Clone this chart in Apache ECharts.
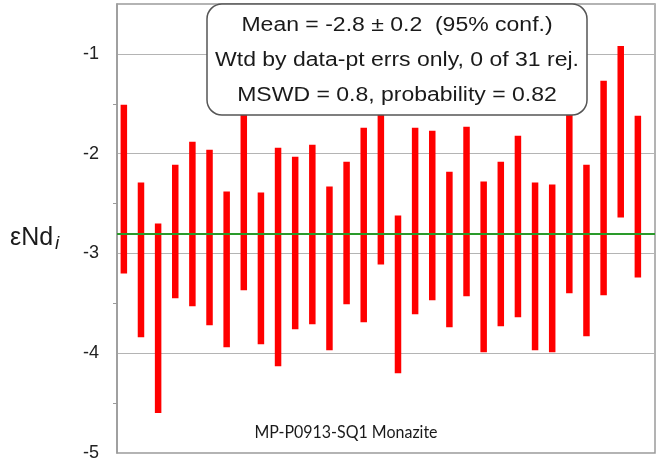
<!DOCTYPE html>
<html>
<head>
<meta charset="utf-8">
<script src="https://cdn.jsdelivr.net/npm/echarts@6/dist/echarts.min.js"></script>
<style>
  html, body { margin: 0; padding: 0; background: #fff; }
  #chart { width: 662px; height: 463px; }
</style>
</head>
<body>
<div id="chart"></div>
<script>
// Spot numbers (analysis index along the x axis)
const spots = [1,2,3,4,5,6,7,8,9,10,11,12,13,14,15,16,17,18,19,20,21,22,23,24,25,26,27,28,29,30,31];
// Upper and lower ends of each 2-sigma error bar (εNd_i)
const upper = [-1.51,-2.29,-2.70,-2.11,-1.88,-1.96,-2.38,-1.50,-2.39,-1.94,-2.03,-1.91,-2.33,-2.08,-1.74,-1.45,
               -2.62,-1.74,-1.77,-2.18,-1.73,-2.28,-2.08,-1.82,-2.29,-2.31,-1.50,-2.11,-1.27,-0.92,-1.62];
const lower = [-3.20,-3.84,-4.60,-3.45,-3.53,-3.72,-3.94,-3.37,-3.91,-4.13,-3.76,-3.71,-3.97,-3.51,-3.69,-3.11,
               -4.20,-3.61,-3.47,-3.74,-3.43,-3.99,-3.73,-3.64,-3.97,-3.99,-3.40,-3.83,-3.42,-2.64,-3.24];
// Weighted mean
const weightedMean = -2.8;
const yTicks = [-5, -4, -3, -2, -1];
const statsLines = [
  'Mean = -2.8 ± 0.2  (95% conf.)',
  'Wtd by data-pt errs only, 0 of 31 rej.',
  'MSWD = 0.8, probability = 0.82'
];
const sampleName = 'MP-P0913-SQ1 Monazite';

const barData = spots.map((s, i) => [s, upper[i], lower[i]]);

const chart = echarts.init(document.getElementById('chart'), null, { renderer: 'canvas' });

chart.setOption({
  animation: false,
  grid: {
    left: 117, right: 7, top: 4, bottom: 10,
    show: true, borderColor: '#9a9a9a', borderWidth: 1.5, backgroundColor: 'transparent'
  },
  xAxis: {
    type: 'value', min: 0.6, max: 32,
    axisLine: { show: false }, axisTick: { show: false },
    axisLabel: { show: false }, splitLine: { show: false }
  },
  yAxis: {
    type: 'value', min: -5, max: -0.5, interval: 1,
    axisLine: { show: true, lineStyle: { color: '#9a9a9a', width: 1.5 } },
    axisTick: { show: false },
    minorTick: { show: true, splitNumber: 2, length: 4, lineStyle: { color: '#9a9a9a', width: 1 } },
    minorSplitLine: { show: false },
    splitLine: { show: true, lineStyle: { color: '#b4b4b4', width: 1.2 } },
    axisLabel: {
      margin: 18, color: '#222', fontFamily: 'Liberation Sans, Arial', fontSize: 18,
      formatter: v => (yTicks.includes(v) ? String(v) : '')
    }
  },
  series: [
    {
      type: 'custom',
      data: barData,
      encode: { x: 0, y: [1, 2] },
      renderItem: (params, api) => {
        const x = api.value(0);
        const top = api.coord([x, api.value(1)]);
        const bot = api.coord([x, api.value(2)]);
        const w = 6.5;
        return {
          type: 'rect',
          shape: { x: top[0] - w / 2, y: top[1], width: w, height: bot[1] - top[1] },
          style: { fill: '#ff0000' }
        };
      },
      z: 3
    },
    {
      type: 'line',
      data: [],
      markLine: {
        silent: true, symbol: 'none', label: { show: false },
        lineStyle: { color: '#2a9a2a', width: 2, type: 'solid' },
        data: [{ yAxis: weightedMean }]
      },
      z: 4
    }
  ],
  graphic: [
    {
      type: 'rect', z: 100,
      shape: { x: 207, y: 4, width: 380, height: 111, r: 15 },
      style: { fill: '#ffffff', stroke: '#555', lineWidth: 1.5 }
    },
    ...statsLines.map((t, i) => ({
      type: 'text', z: 101,
      x: 397, y: 25 + i * 35, scaleX: 1.15,
      style: {
        text: t, fill: '#1a1a1a', font: '20px "Liberation Sans", Arial',
        textAlign: 'center', textVerticalAlign: 'middle'
      }
    })),
    {
      type: 'text', z: 101, x: 346, y: 433, scaleX: 0.94,
      style: {
        text: sampleName, fill: '#1a1a1a', font: '17px Lato, "Open Sans", sans-serif',
        textAlign: 'center', textVerticalAlign: 'middle'
      }
    },
    {
      type: 'text', z: 101, x: 10, y: 238,
      style: {
        text: '{a|εNd}{b|i}',
        textVerticalAlign: 'middle',
        rich: {
          a: { font: '25px "Liberation Sans", Arial', fill: '#1a1a1a' },
          b: { font: 'italic 19px "Liberation Sans", Arial', fill: '#1a1a1a', padding: [12, 0, 0, 2] }
        }
      }
    }
  ]
});
</script>
</body>
</html>
